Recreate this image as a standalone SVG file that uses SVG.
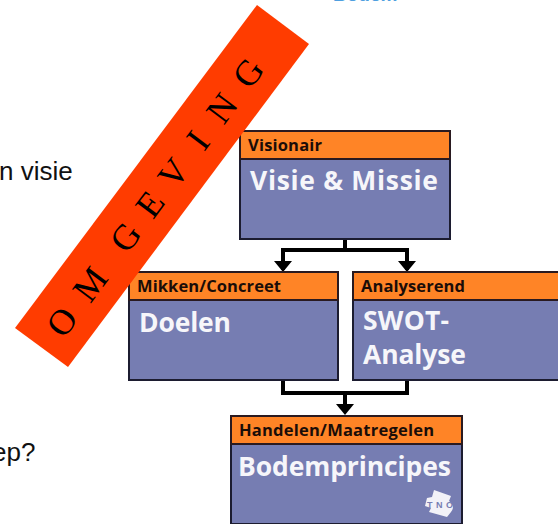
<svg xmlns="http://www.w3.org/2000/svg" width="558" height="524" viewBox="0 0 558 524">
<style>
.h{fill:#ff8426;stroke:#2a1a20;stroke-width:2}
.b{fill:#767db2;stroke:#1c1c30;stroke-width:2}
.hd{font:bold 16.5px "Open Sans","Liberation Sans",Arial,sans-serif;fill:#1a0d08}
.tt{font:bold 26.5px "Open Sans","Liberation Sans",Arial,sans-serif;fill:#f6f6fa}
.sd{font:26px "Liberation Sans",Arial,sans-serif;fill:#111}
.om{font:36px "Liberation Serif","Times New Roman",serif;fill:#000}
.c{fill:none;stroke:#000;stroke-width:4}
</style>
<text x="333" y="1" style="font:bold 19px 'Liberation Sans',Arial,sans-serif" fill="#4f9fe0">Bodem</text>
<text class="sd" x="-1" y="180">n visie</text>
<text class="sd" x="-8" y="461">ep?</text>
<g id="connectors">
<path class="c" d="M345 238V250H283V270"/>
<path class="c" d="M345 250H407V270"/>
<path d="M283 272l-9-11h18zM407 272l-9-11h18z" fill="#000"/>
<path class="c" d="M283 380V393H407V380"/>
<path class="c" d="M345 393V405"/>
<path d="M345 415l-9-11h18z" fill="#000"/>
</g>
<g id="visie">
<rect class="b" x="240" y="131" width="210" height="108"/>
<rect class="h" x="240" y="131" width="210" height="28"/>
<text class="hd" x="248" y="151" textLength="74">Visionair</text>
<text class="tt" x="250" y="190" textLength="188">Visie &amp; Missie</text>
</g>
<g id="doelen">
<rect class="b" x="129" y="272" width="209" height="108"/>
<rect class="h" x="129" y="272" width="209" height="28"/>
<text class="hd" x="137" y="292" textLength="144">Mikken/Concreet</text>
<text class="tt" x="139" y="332" textLength="92">Doelen</text>
</g>
<g id="swot">
<rect class="b" x="353" y="272" width="209" height="108"/>
<rect class="h" x="353" y="272" width="209" height="28"/>
<text class="hd" x="361" y="292" textLength="104">Analyserend</text>
<text class="tt" x="363" y="330" textLength="86">SWOT-</text>
<text class="tt" x="363" y="364" textLength="103">Analyse</text>
</g>
<g id="bodem">
<rect class="b" x="231" y="416" width="231" height="108"/>
<rect class="h" x="231" y="416" width="231" height="28"/>
<text class="hd" x="239" y="436" textLength="195">Handelen/Maatregelen</text>
<text class="tt" x="238" y="476" textLength="213">Bodemprincipes</text>
<path d="M434 490L451 496L449 501A7 7 0 0 1 451 512L447 517L429 512L431 508L425 506L427 498L432 497Z" fill="#f2f2f8"/>
<text x="427" y="508" style="font:bold 9px 'Liberation Sans',Arial,sans-serif" fill="#767db2" textLength="26">TNO</text>
</g>
<g id="omgeving">
<polygon points="257,5 309,44 68,367 15,328" fill="#ff3c00"/>
<text class="om" transform="translate(63.8,339.6) rotate(-53.2)" xml:space="preserve" x="0 30 44 90 106 140 149 175 186 225 234 258 267 305 311">O M G E V I N G</text>
</g>
</svg>
